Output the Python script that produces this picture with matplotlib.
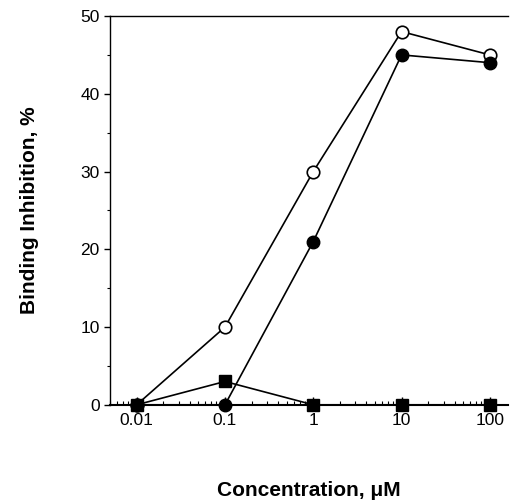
import matplotlib
matplotlib.use("Agg")
import matplotlib.pyplot as plt
from matplotlib.ticker import LogLocator, FixedLocator

plt.rcParams['font.family'] = ['Liberation Sans', 'DejaVu Sans']

conc = [0.01, 0.1, 1, 10, 100]
open_circles = [0, 10, 30, 48, 45]
filled_circles = [0, 0, 21, 45, 44]
squares = [0, 3, 0, 0, 0]
xtick_labels = ['0.01', '0.1', '1', '10', '100']

fig = plt.figure(figsize=(5.12, 5.01), dpi=100)
ax = fig.add_axes([0.215, 0.192, 0.777, 0.776])

ax.plot(conc, open_circles, color='black', lw=1.2, marker='o', ms=9,
        mfc='white', mec='black', mew=1.2, zorder=3)
ax.plot(conc, filled_circles, color='black', lw=1.2, marker='o', ms=9,
        mfc='black', mec='black', zorder=3)
ax.plot(conc, squares, color='black', lw=1.2, marker='s', ms=8,
        mfc='black', mec='black', zorder=4)
for l in ax.lines:
    l.set_clip_on(False)

ax.set_xscale('log')
ax.set_xlim(0.005, 160)
ax.set_ylim(0, 50)
ax.set_xticks(conc)
ax.set_xticklabels(xtick_labels)
ax.xaxis.set_minor_locator(LogLocator(base=10, subs=range(2, 10), numticks=20))
ax.set_yticks([0, 10, 20, 30, 40, 50])
ax.yaxis.set_minor_locator(FixedLocator([5, 15, 25, 35, 45]))

ax.tick_params(axis='x', which='major', direction='in', length=6, width=1, labelsize=12.5, pad=6)
ax.tick_params(axis='x', which='minor', direction='in', length=3, width=0.8)
ax.tick_params(axis='y', which='major', direction='out', length=4, width=1, labelsize=12.5)
ax.tick_params(axis='y', which='minor', direction='out', length=2, width=0.8)

ax.spines['right'].set_visible(False)
ax.spines['bottom'].set_linewidth(1.5)
ax.spines['left'].set_linewidth(1.0)
ax.spines['top'].set_linewidth(1.0)

ax.set_xlabel('Concentration, μM', fontsize=15, fontweight='bold', labelpad=38)
ax.set_ylabel('Binding Inhibition, %', fontsize=15, fontweight='bold', labelpad=30)

fig.savefig('out.png', dpi=100)
